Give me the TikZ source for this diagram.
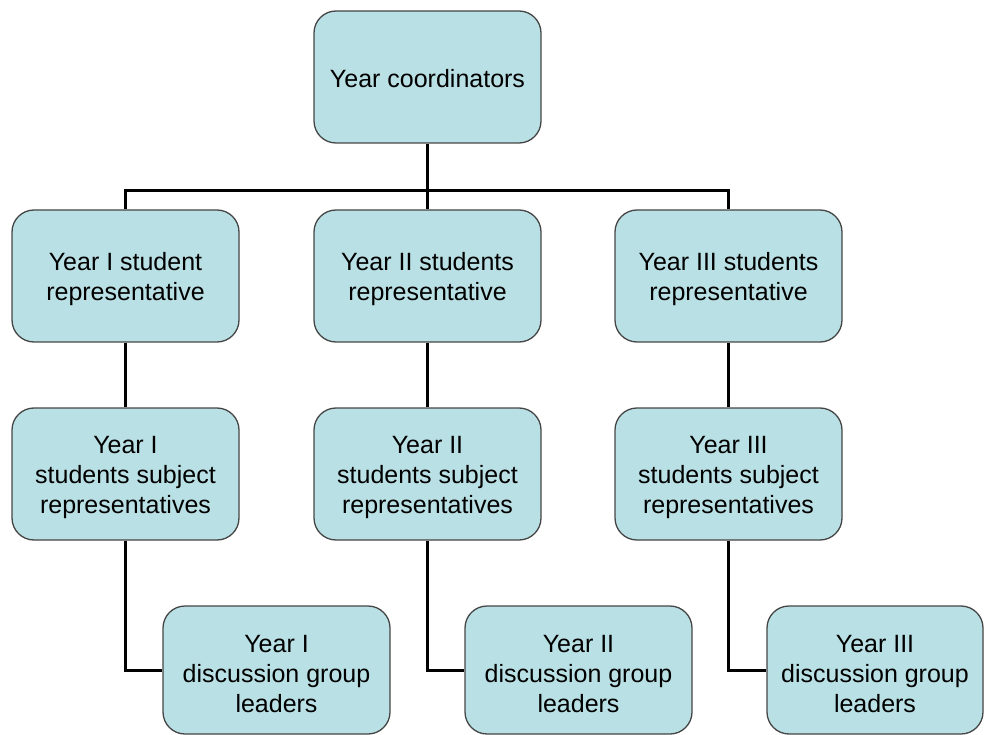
\documentclass[tikz,border=0pt]{standalone}
\usepackage{fontspec}
\setmainfont{Liberation Sans}
\definecolor{boxfill}{RGB}{185,224,228}
\definecolor{boxline}{RGB}{70,70,70}
% taller first line to sit the text a little lower in its box
\newcommand\firstline{\rule{0pt}{25pt}}
\begin{document}
\begin{tikzpicture}[x=1pt,y=-1pt,
  orgbox/.style={draw=boxline, line width=1.3pt, fill=boxfill,
    rounded corners=22pt, minimum width=227pt, minimum height=132pt,
    inner sep=0pt, align=center, font=\fontsize{25}{30}\selectfont},
  leafbox/.style={orgbox, minimum height=128pt},
  link/.style={draw=black, line width=3pt}]
\useasboundingbox (0,0) rectangle (988,735);

% top level
\node[orgbox] (top) at (427.5,77) {\rule{0pt}{22pt}Year coordinators};

% year representatives
\node[orgbox] (r1) at (125.5,276) {\firstline Year I student\\representative};
\node[orgbox] (r2) at (427.5,276) {\firstline Year II students\\representative};
\node[orgbox] (r3) at (728.5,276) {\firstline Year III students\\representative};

% subject representatives
\node[orgbox] (s1) at (125.5,474) {\firstline Year I\\students subject\\representatives};
\node[orgbox] (s2) at (427.5,474) {\firstline Year II\\students subject\\representatives};
\node[orgbox] (s3) at (728.5,474) {\firstline Year III\\students subject\\representatives};

% discussion group leaders
\node[leafbox] (d1) at (276.5,670) {\firstline Year I\\discussion group\\leaders};
\node[leafbox] (d2) at (578.5,670) {\firstline Year II\\discussion group\\leaders};
\node[leafbox, minimum width=216pt] (d3) at (875,670) {\firstline Year III\\discussion group\\leaders};

% connectors
\draw[link] (top.south) -- (r2.north);
\draw[link] (r1.north) -- ++(0,-19) -| (r3.north);
\draw[link] (r1.south) -- (s1.north);
\draw[link] (r2.south) -- (s2.north);
\draw[link] (r3.south) -- (s3.north);
\draw[link] (s1.south) |- (d1.west);
\draw[link] (s2.south) |- (d2.west);
\draw[link] (s3.south) |- (d3.west);
\end{tikzpicture}
\end{document}
